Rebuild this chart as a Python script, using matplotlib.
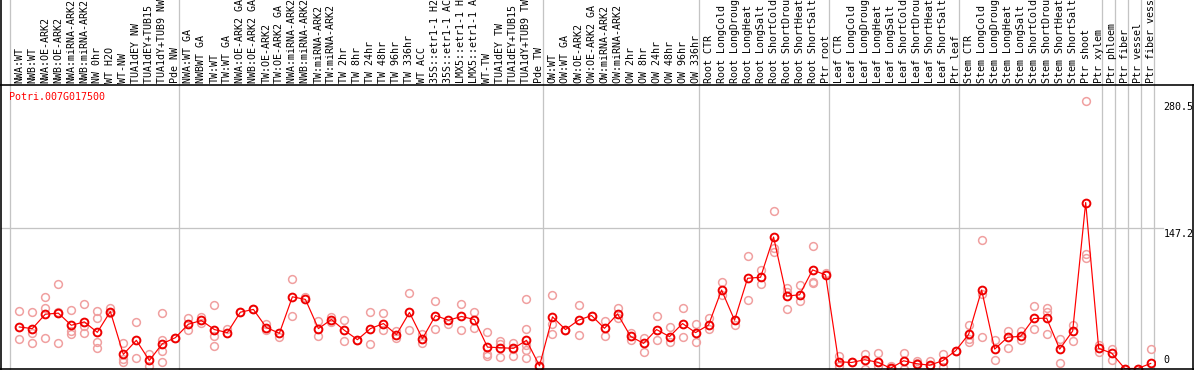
import matplotlib
matplotlib.use("Agg")
import matplotlib.pyplot as plt
import matplotlib.transforms as mtransforms
from matplotlib.lines import Line2D

title = "Potri.007G017500"

labels = [
    "NWA:WT", "NWB:WT", "NWA:OE-ARK2", "NWB:OE-ARK2", "NWA:miRNA-ARK2", "NWB:miRNA-ARK2",
    "NW 0hr", "WT H2O", "WT-NW", "TUA1dEY NW", "TUA1dEY+TUB15 NW", "TUA1dY+TUB9 NW", "Pde NW",
    "NWA:WT GA", "NWBWT GA", "TW:WT", "TW:WT GA", "NWA:OE-ARK2 GA", "NWB:OE-ARK2 GA",
    "TW:OE-ARK2", "TW:OE-ARK2 GA", "NWA:miRNA-ARK2 GA", "NWB:miRNA-ARK2 GA", "TW:miRNA-ARK2",
    "TW:miRNA-ARK2 GA", "TW 2hr", "TW 8hr", "TW 24hr", "TW 48hr", "TW 96hr", "TW 336hr",
    "WT ACC", "35S::etr1-1 H2O", "35S::etr1-1 ACC", "LMX5::etr1-1 H2O", "LMX5::etr1-1 ACC",
    "WT-TW", "TUA1dEY TW", "TUA1dEY+TUB15 TW", "TUA1dY+TUB9 TW", "Pde TW",
    "OW:WT", "OW:WT GA", "OW:OE-ARK2", "OW:OE-ARK2 GA", "OW:miRNA-ARK2", "OW:miRNA-ARK2 GA",
    "OW 2hr", "OW 8hr", "OW 24hr", "OW 48hr", "OW 96hr", "OW 336hr",
    "Root CTR", "Root LongCold", "Root LongDrought", "Root LongHeat", "Root LongSalt",
    "Root ShortCold", "Root ShortDrought", "Root ShortHeat", "Root ShortSalt", "Ptr root",
    "Leaf CTR", "Leaf LongCold", "Leaf LongDrought", "Leaf LongHeat", "Leaf LongSalt",
    "Leaf ShortCold", "Leaf ShortDrought", "Leaf ShortHeat", "Leaf ShortSalt", "Ptr leaf",
    "Stem CTR", "Stem LongCold", "Stem LongDrought", "Stem LongHeat", "Stem LongSalt",
    "Stem ShortCold", "Stem ShortDrought", "Stem ShortHeat", "Stem ShortSalt",
    "Ptr shoot", "Ptr xylem", "Ptr phloem", "Ptr fiber", "Ptr vessel", "Ptr fiber vessel",
]

means = [
    43.5, 41.8, 56.9, 58.0, 45.3, 48.8, 37.9, 59.7, 14.8, 29.5, 8.4, 26.0, 32.3,
    46.4, 50.3, 40.8, 37.6, 59.0, 61.9, 42.9, 36.9, 75.1, 72.4, 41.8, 51.3, 40.0,
    30.2, 41.8, 47.1, 35.5, 58.7, 31.3, 55.5, 50.6, 54.5, 51.3, 22.4, 21.8, 21.1,
    29.5, 2.8,
    54.1, 40.8, 50.6, 55.5, 42.1, 57.2, 33.7, 26.3, 40.8, 33.4, 47.1, 37.6,
    45.6, 82.2, 50.6, 94.5, 95.6, 137.7, 75.9, 77.2, 103.3, 98.0,
    7.1, 6.3, 9.2, 6.6, 0.3, 8.1, 5.0, 3.5, 8.1, 18.7,
    35.8, 82.2, 20.3, 32.7, 33.7, 52.4, 52.7, 20.3, 39.3, 173.9, 21.1,
    16.1, 0.0, 0.0, 5.3,
]

replicates = [
    [60.0, 30.6], [59.0, 37.2, 27.1], [74.8, 62.9, 32.3], [88.5, 26.3, 59.0],
    [61.1, 39.3, 35.8], [67.4, 45.0, 36.9], [60.0, 53.4, 27.7, 21.8], [63.5, 58.0],
    [26.3, 10.2, 6.3], [48.5, 10.5], [15.1, 2.1], [58.0, 29.5, 18.7, 6.3], [32.3],
    [52.4, 40.8], [54.1, 47.7], [66.4, 33.7, 23.9], [41.4], [59.0], [61.9],
    [47.1, 40.0], [33.0], [93.8, 54.8], [75.1], [49.5, 33.7], [54.1, 48.8],
    [51.3, 28.5], [30.2], [58.7, 25.3], [58.0, 40.0], [39.0, 32.3], [79.0, 40.0],
    [35.8, 26.7], [70.6, 41.8], [47.1], [67.4, 40.8], [59.0, 42.9],
    [38.3, 15.5, 12.6], [28.8, 26.0, 11.9], [26.7, 20.3, 12.6],
    [72.4, 41.1, 25.0, 19.0, 11.3], [9.2],
    [76.9, 46.4, 35.8], [40.8], [66.4, 34.8], [55.5], [49.5, 33.7], [63.5, 53.4],
    [37.2, 30.2], [32.3, 17.6], [55.5, 29.5], [43.2, 28.1], [63.2, 32.7], [47.1, 28.1],
    [52.7, 41.4], [90.6, 77.2], [45.3], [117.7, 71.7], [103.3, 88.2],
    [165.1, 126.1, 122.5], [84.0, 80.1, 62.2], [87.5, 70.3], [128.6, 90.6, 89.3], [100.4],
    [13.0, 2.4], [6.3], [15.5, 0.0], [16.5, 2.1], [2.1, 0.0], [16.5, 0.0], [7.4, 5.6],
    [7.4, 2.1], [14.8, 1.4], [18.7],
    [46.0, 31.3, 27.7], [134.6, 77.7, 33.4], [30.2, 9.2], [39.3, 21.4], [39.7, 30.2],
    [65.0, 41.8], [62.9, 58.7, 36.6], [31.3, 6.0], [46.0, 29.2], [280.5, 120.4, 116.2],
    [24.2, 17.2], [20.8, 9.2], [0.0], [0.0], [20.0],
]

group_starts = [0, 13, 41, 53, 63, 73, 84, 85, 86, 87, 88]
ytick_values = [0, 147.2, 280.5]
ytick_labels = ["0", "147.2", "280.5"]

W, H = 1194, 370
PX = 72.0 / 100.0
mono = "DejaVu Sans Mono"
fs = 7.2

fig = plt.figure(figsize=(W / 100, H / 100), dpi=100)
ax_top_px, ax_bot_px = 85.0, 368.5
ax_left_px, ax_right_px = 1.0, 1155.0
ax_h_px = ax_bot_px - ax_top_px
ax = fig.add_axes([ax_left_px / W, (H - ax_bot_px) / H,
                   (ax_right_px - ax_left_px) / W, ax_h_px / H])
ax.set_xlim(-1.407, 87.33)
ax.set_ylim(0, 297.0)
for s in ax.spines.values():
    s.set_visible(False)
ax.set_xticks([])
ax.set_yticks([])
ax.patch.set_alpha(0)

grid_c = "#c4c4c4"
for k in group_starts:
    ax.axvline(k - 0.715, ymin=0, ymax=1 + ax_top_px / ax_h_px, color=grid_c,
               lw=1.0 * PX * 1.3, clip_on=False, zorder=1)
ax.axhline(147.2, xmin=0, xmax=(1163 - ax_left_px) / (ax_right_px - ax_left_px),
           color=grid_c, lw=1.3 * PX, clip_on=False, zorder=1)

rx, ry = [], []
for i, reps in enumerate(replicates):
    for v in reps:
        rx.append(i)
        ry.append(v)
ax.plot(rx, ry, ls="none", marker="o", ms=5.6, mfc="none", mec="#f0a0a0",
        mew=1.1, zorder=2)
xs = list(range(len(means)))
ax.plot(xs, means, color="#ff0000", lw=1.2 * PX, marker="o", ms=5.6, mfc="none",
        mec="#ee0000", mew=1.4, zorder=3)

trans_lab = mtransforms.blended_transform_factory(ax.transData, ax.transAxes)
for i, lab in enumerate(labels):
    ax.text(i, 1 + 2.0 / ax_h_px, lab, transform=trans_lab, rotation=90,
            ha="center", va="bottom", fontsize=fs, family=mono, color="black",
            clip_on=False)

for v, t in zip(ytick_values, ytick_labels):
    if v == 0:
        off, va = 3.5, "bottom"
    else:
        off, va = -1.0, "top"
    ax.annotate(t, xy=(1, v), xycoords=("axes fraction", "data"),
                xytext=(8.5 * PX, off * PX), textcoords="offset points",
                ha="left", va=va, fontsize=fs, family=mono, color="black",
                annotation_clip=False)

fig.text(9 / W, 1 - 96.5 / H, title, ha="left", va="center", fontsize=fs,
         family=mono, color="#ff0000")

blk = 1.6 * PX
fig.add_artist(Line2D([0, 1], [1 - ax_top_px / H] * 2, transform=fig.transFigure,
                      color="black", lw=blk))
fig.add_artist(Line2D([0, 1], [1 - ax_bot_px / H] * 2, transform=fig.transFigure,
                      color="black", lw=blk))
fig.add_artist(Line2D([1 / W, 1 / W], [0, 1], transform=fig.transFigure,
                      color="black", lw=blk))
fig.add_artist(Line2D([1193 / W, 1193 / W], [0, 1 - ax_top_px / H],
                      transform=fig.transFigure, color="black", lw=blk))

fig.savefig("out.png", dpi=100)
